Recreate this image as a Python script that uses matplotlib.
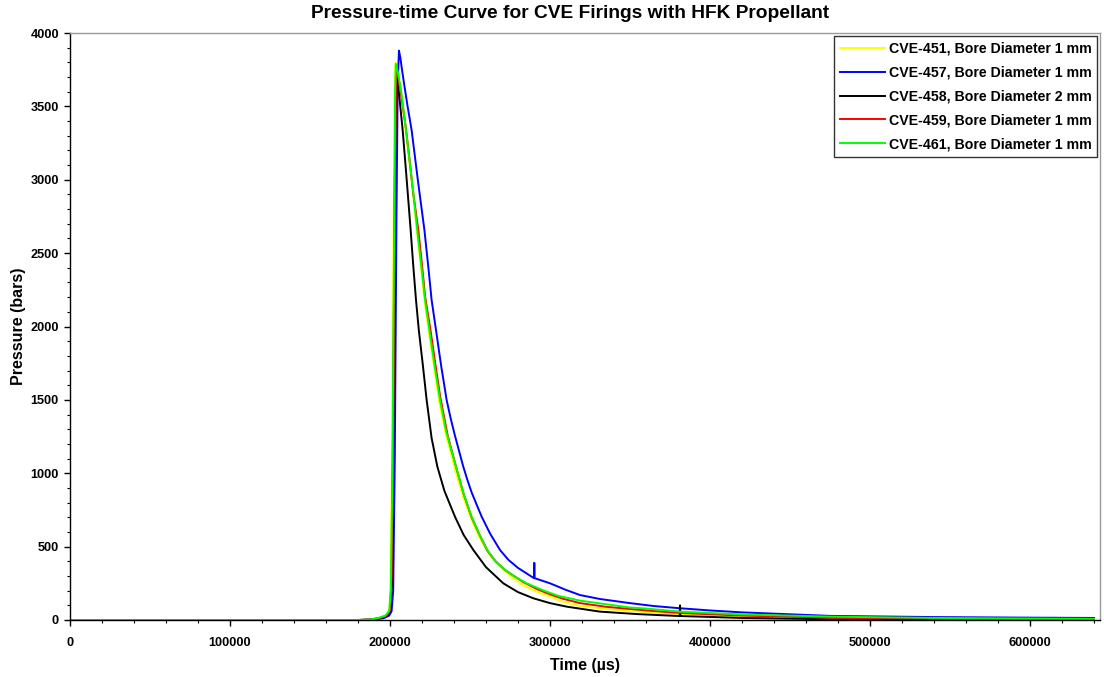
import matplotlib
matplotlib.use("Agg")
import matplotlib.pyplot as plt
from matplotlib.ticker import MultipleLocator
from matplotlib.legend_handler import HandlerLine2D

plt.rcParams['font.family'] = ['Liberation Sans', 'DejaVu Sans']
plt.rcParams['font.weight'] = 'bold'

# Pressure records (time in µs, pressure in bars)
t_451 = [0, 180000, 187500, 193000, 197000, 199500, 200300, 201200, 202200, 203000, 203500,
         205000, 207000, 210000, 212000, 214500, 217000, 219500, 221900, 224600, 227500,
         231000, 235000, 238000, 241000, 246000, 251500, 256000, 262500, 267000, 272000,
         281250, 290000, 300000, 308000, 318750, 335000, 350000, 365000, 381250, 420000,
         475000, 540000, 600000, 640000]
p_451 = [0, 0, 3, 14, 28, 55, 200, 1000, 2600, 3650, 3800,
         3730, 3590, 3320, 3130, 2900, 2630, 2390, 2150, 1940, 1730,
         1470, 1260, 1140, 1010, 830, 670, 560, 440, 385, 330,
         250, 200, 160, 125, 95, 75, 62, 50, 40, 25,
         12, 6, 4, 3]

t_457 = [0, 180000, 189000, 196000, 199500, 201000, 202000, 203000, 204000, 204800, 205600,
         206500, 207500, 209000, 211000, 213500, 217500, 221500, 224000, 226000, 228750,
         232000, 235400, 238000, 240500, 245800, 248500, 251000, 254000, 257300, 262500,
         268750, 274000, 280000, 290000, 290200, 290400, 300000, 310000, 318750, 331250,
         350000, 365000, 381250, 400000, 420000, 475000, 540000, 600000, 640000]
p_457 = [0, 0, 3, 12, 30, 60, 200, 1100, 2700, 3650, 3880,
         3830, 3750, 3640, 3500, 3339, 2990, 2658, 2400, 2181, 1976,
         1730, 1499, 1370, 1260, 1045, 950, 870, 790, 704, 590,
         477, 410, 355, 285, 390, 285, 250, 205, 170, 143,
         115, 95, 80, 65, 52, 28, 20, 16, 14]

t_458 = [0, 180000, 188000, 194000, 198000, 200000, 201200, 202200, 203200, 204000, 205500,
         207900, 210000, 212900, 214500, 216250, 218000, 220500, 222900, 226000, 229600,
         234000, 240600, 246000, 252100, 260000, 270800, 280000, 289600, 300000, 310400,
         331250, 355000, 381000, 381250, 381500, 420000, 475000, 540000, 600000, 640000]
p_458 = [0, 0, 3, 13, 28, 60, 250, 1500, 3200, 3710, 3600,
         3339, 3060, 2658, 2420, 2181, 1976, 1740, 1499, 1240, 1045,
         880, 704, 580, 477, 360, 250, 190, 148, 115, 91,
         57, 40, 27, 100, 27, 14, 5, 2, 1, 1]

t_459 = [0, 180000, 188000, 194000, 198000, 200000, 201000, 202000, 203000, 203800,
         205200, 207200, 210000, 212000, 214500, 217700, 220000, 222000, 225300, 228000,
         231250, 236000, 241250, 246000, 251000, 256000, 261000, 266000, 272000, 283000,
         292000, 300000, 308000, 318750, 335000, 350000, 365000, 381250, 420000, 475000,
         540000, 600000, 640000]
p_459 = [0, 0, 3, 14, 30, 70, 300, 1400, 3000, 3750,
         3700, 3560, 3345, 3160, 2910, 2658, 2420, 2200, 1976, 1770,
         1530, 1260, 1045, 860, 700, 580, 470, 400, 340, 260,
         210, 175, 145, 115, 90, 75, 61, 48, 30, 16,
         9, 6, 5]

t_461 = [0, 180000, 187500, 193000, 197000, 199500, 200500, 201500, 202500, 203200, 203600,
         205000, 207000, 210000, 212000, 214500, 217000, 219500, 221900, 224600, 227500,
         231250, 235000, 238000, 241250, 246000, 251000, 256000, 260800, 266000, 272000,
         278000, 285400, 295000, 300000, 305000, 318750, 331250, 340000, 350000, 360000,
         381250, 420000, 475000, 540000, 600000, 640000]
p_461 = [0, 0, 3, 15, 30, 60, 200, 1000, 2500, 3600, 3790,
         3730, 3600, 3339, 3150, 2920, 2658, 2420, 2181, 1976, 1760,
         1499, 1290, 1170, 1045, 860, 704, 580, 477, 400, 340,
         295, 250, 205, 185, 165, 132, 113, 100, 85, 78,
         57, 38, 23, 14, 10, 8]

series = [
    (t_451, p_451, '#ffff00', 'CVE-451, Bore Diameter 1 mm'),
    (t_457, p_457, '#0000ff', 'CVE-457, Bore Diameter 1 mm'),
    (t_458, p_458, '#000000', 'CVE-458, Bore Diameter 2 mm'),
    (t_459, p_459, '#ff0000', 'CVE-459, Bore Diameter 1 mm'),
    (t_461, p_461, '#00ff00', 'CVE-461, Bore Diameter 1 mm'),
]


class InsetLineHandler(HandlerLine2D):
    """Legend line that starts a little to the right of the handle box."""

    def create_artists(self, legend, orig_handle, xdescent, ydescent, width, height,
                       fontsize, trans):
        artists = super().create_artists(legend, orig_handle, xdescent, ydescent, width,
                                         height, fontsize, trans)
        x0, x1 = -xdescent, -xdescent + width
        start = x0 + 0.3 * (x1 - x0)
        for art in artists:
            xd = list(art.get_xdata())
            if len(xd) == 2:
                art.set_xdata([start, x1])
        return artists


fig = plt.figure(figsize=(11.04, 6.77), dpi=100)
ax = fig.add_axes([70 / 1104, 1 - 620 / 677, 1030 / 1104, 587 / 677])

lines = []
for t, p, c, lab in series:
    ln, = ax.plot(t, p, color=c, lw=1.4, label=lab)
    lines.append(ln)

ax.set_xlim(0, 643750)
ax.set_ylim(0, 4000)
ax.xaxis.set_major_locator(MultipleLocator(100000))
ax.xaxis.set_minor_locator(MultipleLocator(20000))
ax.yaxis.set_major_locator(MultipleLocator(500))
ax.yaxis.set_minor_locator(MultipleLocator(100))
ax.tick_params(which='major', direction='out', length=4, width=1, labelsize=9.2, color='black')
ax.tick_params(which='minor', direction='out', length=2.5, width=0.8, color='black')
ax.tick_params(axis='x', which='major', pad=8)
ax.tick_params(axis='y', which='major', pad=4)
for lbl in ax.get_xticklabels() + ax.get_yticklabels():
    lbl.set_fontweight('bold')

for side in ('left', 'bottom'):
    ax.spines[side].set_color('black')
    ax.spines[side].set_linewidth(1.0)
for side in ('top', 'right'):
    ax.spines[side].set_color('#9a9a9a')
    ax.spines[side].set_linewidth(1.0)

ax.set_xlabel('Time (µs)', fontsize=11.5, fontweight='bold', labelpad=7)
ax.set_ylabel('Pressure (bars)', fontsize=11.5, fontweight='bold', labelpad=3)
fig.text(570 / 1104, 1 - 14 / 677, 'Pressure-time Curve for CVE Firings with HFK Propellant',
         ha='center', va='center', fontsize=13.8, fontweight='bold')

leg = ax.legend(handles=lines, loc='upper right', bbox_to_anchor=(1097 / 1104, 1 - 36 / 677),
                bbox_transform=fig.transFigure, fontsize=10.2, frameon=True, fancybox=False,
                edgecolor='black', handlelength=3.2, handletextpad=0.25,
                labelspacing=0.7, borderpad=0.4, borderaxespad=0,
                handler_map={ln: InsetLineHandler() for ln in lines})
leg.get_frame().set_linewidth(1.0)
for txt in leg.get_texts():
    txt.set_fontweight('bold')

fig.savefig('out.png', dpi=100)
